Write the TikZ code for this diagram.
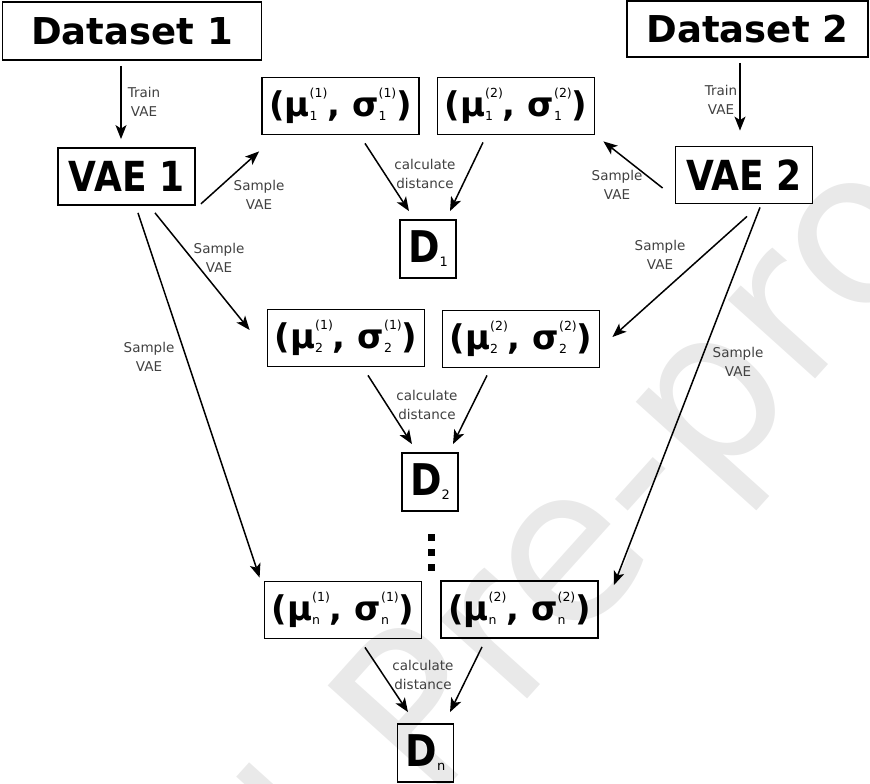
\documentclass[tikz,border=0pt]{standalone}
\usepackage{graphicx}
\usepackage{fontspec}
\setmainfont{DejaVu Sans}
\usetikzlibrary{arrows.meta}
\definecolor{LabelGray}{RGB}{64,64,64}
\definecolor{StampGray}{RGB}{233,233,233}

% bold symbol with a small upper and lower index stacked at its right
\newcommand{\parm}[3]{#1{\fontsize{12.5}{12.5}\selectfont\mdseries\rlap{\raisebox{-4pt}{#3}}\raisebox{19pt}{#2}}}
\newcommand{\tall}[1]{\scalebox{1}[1.15]{#1}}
\newcommand{\dist}[1]{\tall{D}{\fontsize{13}{13}\selectfont\mdseries\raisebox{-4pt}{#1}}}

\tikzset{
  box/.style={draw, line width=1.8pt, inner sep=0pt, font=\bfseries\fontsize{37}{37}\selectfont},
  vaebox/.style={box, minimum width=137pt, minimum height=57pt, font=\bfseries\fontsize{36}{36}\selectfont},
  parbox/.style={box, minimum width=157pt, minimum height=57pt, font=\bfseries\fontsize{34}{34}\selectfont},
  dbox/.style={box, minimum width=56pt, minimum height=58pt, font=\bfseries\fontsize{38}{38}\selectfont},
  lbl/.style={text=LabelGray, align=center, inner sep=0pt, font=\fontsize{13.5}{19}\selectfont},
  arr/.style={-{Stealth[length=14pt,width=11pt,inset=3.5pt]}, line width=1.5pt},
}

\begin{document}
\begin{tikzpicture}[x=1pt,y=-1pt]
  \useasboundingbox (0,0) rectangle (870,784);

  % stamp behind the chart
  \begin{scope}
    \clip (0,0) rectangle (870,784);
    \node[rotate=48, anchor=base west, inner sep=0pt, text=StampGray,
      font=\fontsize{215}{215}\selectfont] (stamp) at (430,807) {\llap{Journal }Pre-proof};
  \end{scope}

  % data sets and the two models
  \node[box, minimum width=259pt, minimum height=58pt] (ds1) at (132,31) {Dataset 1};
  \node[box, minimum width=241pt, minimum height=56pt] (ds2) at (747.5,29) {Dataset 2};
  \node[vaebox] (vae1) at (126.5,176.5) {\tall{VAE 1}};
  \node[vaebox] (vae2) at (744,175) {\tall{VAE 2}};

  % sampled parameters and their distances
  \node[parbox] (m11) at (340.5,106) {\parm{(μ}{(1)}{1}, \parm{σ}{(1)}{1})};
  \node[parbox] (m12) at (516,106) {\parm{(μ}{(2)}{1}, \parm{σ}{(2)}{1})};
  \node[dbox] (d1) at (428,249) {\dist{1}};
  \node[parbox] (m21) at (346,338) {\parm{(μ}{(1)}{2}, \parm{σ}{(1)}{2})};
  \node[parbox] (m22) at (521,339) {\parm{(μ}{(2)}{2}, \parm{σ}{(2)}{2})};
  \node[dbox] (d2) at (430,482) {\dist{2}};
  \node[parbox] (mn1) at (343,610) {\parm{(μ}{(1)}{n}, \parm{σ}{(1)}{n})};
  \node[parbox] (mn2) at (519.5,609.5) {\parm{(μ}{(2)}{n}, \parm{σ}{(2)}{n})};
  \node[dbox] (dn) at (425.5,753) {\dist{n}};

  % vertical dots
  \coordinate (dots) at (431,552);
  \foreach \dy in {-15,0,15}
    \fill ([yshift=\dy pt]dots) +(-3.5,-3.5) rectangle +(3.5,3.5);

  % training
  \draw[arr] ([xshift=-11pt,yshift=-5pt]ds1.south) -- ([xshift=-5.5pt,yshift=8pt]vae1.north);
  \draw[arr] ([xshift=-7.5pt,yshift=-5pt]ds2.south) -- ([xshift=-4pt,yshift=15pt]vae2.north);
  \node[lbl] (t1) at (144,101.5) {Train\\VAE};
  \node[lbl] (t2) at (721,99.5) {Train\\VAE};

  % sampling from VAE 1
  \draw[arr] ([xshift=5pt,yshift=2pt]vae1.south east) -- ([xshift=-2pt,yshift=-16pt]m11.south west);
  \draw[arr] ([xshift=28.5pt,yshift=-7pt]vae1.south) -- ([xshift=-17pt,yshift=8pt]m21.west);
  \draw[arr] ([xshift=11.5pt,yshift=-7pt]vae1.south) -- ([xshift=-4pt,yshift=3pt]mn1.north west);
  \node[lbl] (s11) at (259,195) {Sample\\VAE};
  \node[lbl] (s12) at (219,258) {Sample\\VAE};
  \node[lbl] (s1n) at (149,357) {Sample\\VAE};

  % sampling from VAE 2
  \draw[arr] ([xshift=-12pt,yshift=-13pt]vae2.west) -- ([xshift=8pt,yshift=-6pt]m12.south east);
  \draw[arr] ([xshift=3pt,yshift=-12pt]vae2.south) -- ([xshift=12pt,yshift=2pt]m22.east);
  \draw[arr] ([xshift=16pt,yshift=-3pt]vae2.south) -- ([xshift=15pt,yshift=-5pt]mn2.north east);
  \node[lbl] (s21) at (617,185) {Sample\\VAE};
  \node[lbl] (s22) at (660,255) {Sample\\VAE};
  \node[lbl] (s2n) at (738,362) {Sample\\VAE};

  % distances
  \draw[arr] ([xshift=24.5pt,yshift=-8pt]m11.south) -- ([xshift=-19pt,yshift=8pt]d1.north);
  \draw[arr] ([xshift=-33pt,yshift=-7pt]m12.south) -- ([xshift=22pt,yshift=8pt]d1.north);
  \draw[arr] ([xshift=22pt,yshift=-8pt]m21.south) -- ([xshift=-18pt,yshift=8pt]d2.north);
  \draw[arr] ([xshift=-34pt,yshift=-7pt]m22.south) -- ([xshift=23pt,yshift=8pt]d2.north);
  \draw[arr] ([xshift=22pt,yshift=-8pt]mn1.south) -- ([xshift=-17.5pt,yshift=11pt]dn.north);
  \draw[arr] ([xshift=-37.5pt,yshift=-8pt]mn2.south) -- ([xshift=24.5pt,yshift=11pt]dn.north);
  \node[lbl] (c1) at (425,174) {calculate\\distance};
  \node[lbl] (c2) at (427,405) {calculate\\distance};
  \node[lbl] (cn) at (423,675) {calculate\\distance};
\end{tikzpicture}
\end{document}
